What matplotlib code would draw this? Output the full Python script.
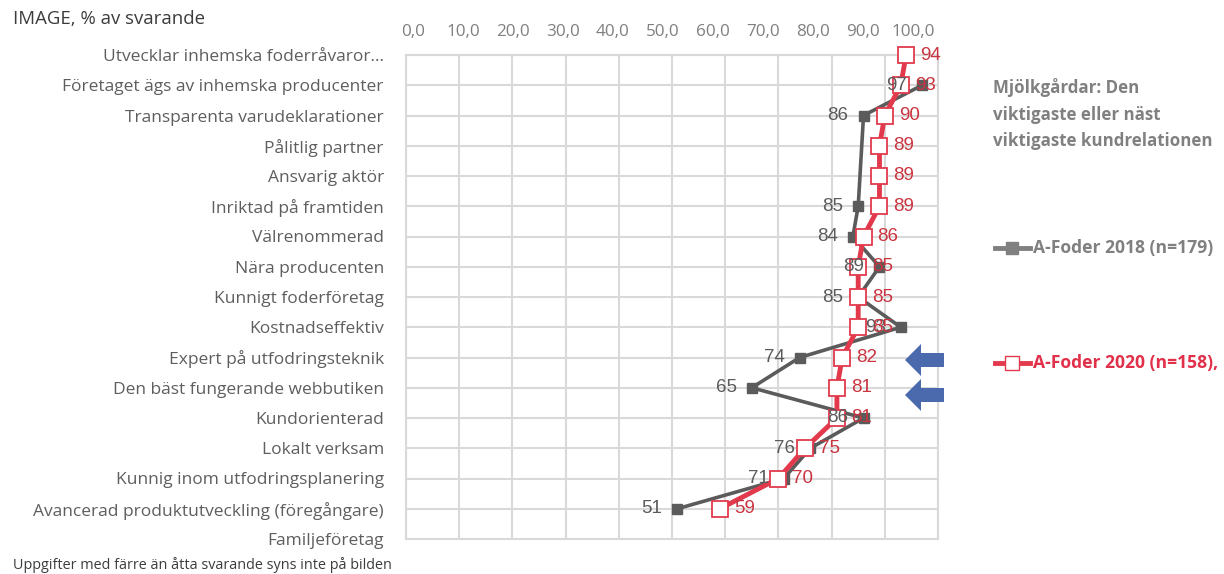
import numpy as np
import matplotlib
matplotlib.use("Agg")
import matplotlib.pyplot as plt
from matplotlib.lines import Line2D
from matplotlib.patches import Polygon

categories = [
    "Utvecklar inhemska foderråvaror...",
    "Företaget ägs av inhemska producenter",
    "Transparenta varudeklarationer",
    "Pålitlig partner",
    "Ansvarig aktör",
    "Inriktad på framtiden",
    "Välrenommerad",
    "Nära producenten",
    "Kunnigt foderföretag",
    "Kostnadseffektiv",
    "Expert på utfodringsteknik",
    "Den bäst fungerande webbutiken",
    "Kundorienterad",
    "Lokalt verksam",
    "Kunnig inom utfodringsplanering",
    "Avancerad produktutveckling (föregångare)",
    "Familjeföretag",
]
nan = np.nan
values_2018 = [nan, 97, 86, nan, nan, 85, 84, 89, 85, 93, 74, 65, 86, 76, 71, 51, nan]
values_2020 = [94, 93, 90, 89, 89, 89, 86, 85, 85, 85, 82, 81, 81, 75, 70, 59, nan]
tick_values = [0, 10, 20, 30, 40, 50, 60, 70, 80, 90, 100]
tick_labels = ["0,0", "10,0", "20,0", "30,0", "40,0", "50,0", "60,0", "70,0", "80,0", "90,0", "100,0"]
label_2018 = "A-Foder 2018 (n=179)"
label_2020 = "A-Foder 2020 (n=158),"
legend_title = "Mjölkgårdar: Den\nviktigaste eller näst\nviktigaste kundrelationen"
title = "IMAGE, % av svarande"
footnote = "Uppgifter med färre än åtta svarande syns inte på bilden"

GRAY = "#5b5b5b"
RED = "#e23a4c"
REDTXT = "#c9343f"
GRID = "#d9d9d9"
W, H = 1224, 574

fig = plt.figure(figsize=(W / 100, H / 100), dpi=100)
ax = fig.add_axes([406 / W, 1 - 539 / H, (938 - 406) / W, (539 - 55) / H])

y = np.arange(len(categories))
v18 = np.array(values_2018, dtype=float)
v20 = np.array(values_2020, dtype=float)
m18 = ~np.isnan(v18)
m20 = ~np.isnan(v20)

ax.set_xlim(0, 100)
ax.set_ylim(len(categories) - 1, 0)
ax.set_xticks(tick_values)
ax.set_yticks(y)
ax.grid(True, color=GRID, linewidth=1.5)
ax.set_axisbelow(True)
for s in ax.spines.values():
    s.set_color(GRID)
    s.set_linewidth(1.5)
ax.tick_params(length=0, labelbottom=False, labelleft=True)
ax.set_yticklabels(categories, fontsize=12.5, color="#5e5e5e", family="Open Sans")
ax.tick_params(axis="y", pad=16)

ax.plot(v18[m18], y[m18], color=GRAY, lw=2.6, marker="s", ms=7.5,
        mfc=GRAY, mec=GRAY, clip_on=False, zorder=3)
ax.plot(v20[m20], y[m20], color=RED, lw=3.5, marker="s", ms=12,
        mfc="white", mec=RED, mew=1.3, clip_on=False, zorder=4)

for yi, v in zip(y, v18):
    if not np.isnan(v):
        ax.annotate(f"{v:.0f}", (v, yi), xytext=(-11, 0), textcoords="offset points",
                    ha="right", va="center", fontsize=13.5, color=GRAY,
                    family="Liberation Sans", zorder=5)
for yi, v in zip(y, v20):
    if not np.isnan(v):
        ax.annotate(f"{v:.0f}", (v, yi), xytext=(10, 0), textcoords="offset points",
                    ha="left", va="center", fontsize=13.5, color=REDTXT,
                    family="Liberation Sans", zorder=5)

# top tick labels (offset scale as in the reference)
ax2 = ax.twiny()
ax2.set_xlim((406 - 413) / 5.0, (938 - 413) / 5.0)
ax2.set_xticks(tick_values)
ax2.set_xticklabels(tick_labels, fontsize=12.3, color="#808080", family="Open Sans")
ax2.tick_params(length=0, pad=11)
for s in ax2.spines.values():
    s.set_visible(False)

def fx(px):
    return px / W

def fy(py):
    return 1 - py / H

fig.text(fx(13), fy(19), title, fontsize=13.4, color="#3c3c3c", family="Open Sans",
         ha="left", va="center")
fig.text(fx(13), fy(565), footnote, fontsize=10.4, color="#3c3c3c", family="Open Sans",
         ha="left", va="center")

fig.text(fx(993), fy(114), legend_title, fontsize=12.2, color="#808080", family="Open Sans",
         weight="bold", ha="left", va="center", linespacing=1.6)

fig.add_artist(Line2D([fx(995), fx(1030)], [fy(248), fy(248)], color="#808080", lw=3.5,
                      transform=fig.transFigure))
fig.add_artist(Line2D([fx(1012)], [fy(248)], color="#808080", marker="s", ms=8,
                      transform=fig.transFigure, lw=0))
fig.text(fx(1033), fy(248), label_2018, fontsize=12.6, color="#808080", family="Open Sans",
         weight="bold", ha="left", va="center")

fig.add_artist(Line2D([fx(995), fx(1030)], [fy(363), fy(363)], color=RED, lw=3.5,
                      transform=fig.transFigure))
fig.add_artist(Line2D([fx(1012)], [fy(363)], color=RED, marker="s", ms=10, mfc="white",
                      mec=RED, transform=fig.transFigure, lw=0))
fig.text(fx(1033), fy(363), label_2020, fontsize=12.6, color="#e0304a", family="Open Sans",
         weight="bold", ha="left", va="center")

# blue arrows
for cy in (360, 395):
    pts = [(905, cy), (921, cy - 16), (921, cy - 7), (944, cy - 7),
           (944, cy + 7), (921, cy + 7), (921, cy + 16)]
    fig.add_artist(Polygon([(fx(px), fy(py)) for px, py in pts], closed=True,
                           facecolor="#4a6aad", edgecolor="none",
                           transform=fig.transFigure))

fig.savefig("out.png", dpi=100)
